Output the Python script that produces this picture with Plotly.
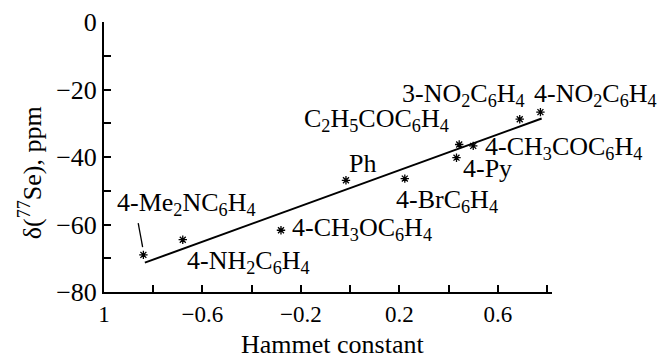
import plotly.graph_objects as go

# ---- data ----
substituents = ["4-Me<sub>2</sub>NC<sub>6</sub>H<sub>4</sub>", "4-NH<sub>2</sub>C<sub>6</sub>H<sub>4</sub>",
                "4-CH<sub>3</sub>OC<sub>6</sub>H<sub>4</sub>", "Ph", "4-BrC<sub>6</sub>H<sub>4</sub>", "4-Py",
                "C<sub>2</sub>H<sub>5</sub>COC<sub>6</sub>H<sub>4</sub>",
                "4-CH<sub>3</sub>COC<sub>6</sub>H<sub>4</sub>",
                "3-NO<sub>2</sub>C<sub>6</sub>H<sub>4</sub>", "4-NO<sub>2</sub>C<sub>6</sub>H<sub>4</sub>"]
hammett = [-0.84, -0.68, -0.281, -0.017, 0.222, 0.432, 0.443, 0.50, 0.689, 0.773]
shift_se = [-69.0, -64.5, -61.7, -46.9, -46.4, -40.2, -36.3, -36.7, -28.8, -26.7]

fit_x = [-0.834, 0.778]
fit_y = [-71.3, -28.6]
leader_x = [-0.861, -0.843]
leader_y = [-59.6, -66.7]

x_tickvals = [-1.0, -0.8, -0.6, -0.4, -0.2, 0.0, 0.2, 0.4, 0.6, 0.8]
x_ticktext = ["1", "", "\u22120.6", "", "\u22120.2", "", "0.2", "", "0.6", ""]
y_tickvals = [-80, -70, -60, -50, -40, -30, -20, -10, 0]
y_ticktext = ["\u221280", "", "\u221260", "", "\u221240", "", "\u221220", "", "0"]

# ---- label placement (pixel offsets from each point; layout only) ----
label_style = [
    dict(xanchor="left", xshift=-28, yshift=51),
    dict(xanchor="left", xshift=2, yshift=-22),
    dict(xanchor="left", xshift=9, yshift=1),
    dict(xanchor="left", xshift=1, yshift=17),
    dict(xanchor="left", xshift=-11, yshift=-22),
    dict(xanchor="left", xshift=5, yshift=-11),
    dict(xanchor="right", xshift=-8, yshift=25),
    dict(xanchor="left", xshift=10, yshift=-2),
    dict(xanchor="right", xshift=7, yshift=24),
    dict(xanchor="left", xshift=-8, yshift=17),
]

FONT = "Liberation Serif"
fs = 26

fig = go.Figure()
fig.add_trace(go.Scatter(x=fit_x, y=fit_y, mode="lines",
                         line=dict(color="black", width=2), showlegend=False))
fig.add_trace(go.Scatter(x=leader_x, y=leader_y, mode="lines",
                         line=dict(color="black", width=1.3), showlegend=False))
fig.add_trace(go.Scatter(x=hammett, y=shift_se, mode="markers",
                         marker=dict(symbol="asterisk-open", size=7, color="black",
                                     line=dict(color="black", width=1.3)),
                         showlegend=False))

for name, xv, yv, st in zip(substituents, hammett, shift_se, label_style):
    fig.add_annotation(x=xv, y=yv, text=name, showarrow=False, yanchor="middle",
                       font=dict(family=FONT, size=fs, color="black"), **st)

fig.add_annotation(xref="paper", yref="paper", x=0.509, y=-0.195, text="Hammet constant",
                   showarrow=False, xanchor="center", yanchor="middle",
                   font=dict(family=FONT, size=fs, color="black"))
fig.add_annotation(xref="paper", yref="paper", x=-0.165, y=0.44,
                   text="\u03b4(<sup>77</sup>Se), ppm", textangle=-90,
                   showarrow=False, xanchor="center", yanchor="middle",
                   font=dict(family=FONT, size=fs, color="black"))

axis_common = dict(showgrid=False, zeroline=False, showline=True, linecolor="black",
                   linewidth=2, ticks="inside", ticklen=7, tickwidth=2, tickcolor="black",
                   automargin=False)
fig.update_xaxes(range=[-1, 0.82], tickmode="array", tickvals=x_tickvals,
                 ticktext=x_ticktext, tickfont=dict(family=FONT, size=23, color="black"),
                 **axis_common)
fig.update_yaxes(range=[-80, 0], tickmode="array", tickvals=y_tickvals,
                 ticktext=y_ticktext, tickfont=dict(family=FONT, size=fs, color="black"),
                 **axis_common)

fig.update_layout(width=663, height=358, margin=dict(l=104, r=111, t=22, b=66),
                  plot_bgcolor="white", paper_bgcolor="white", hovermode=False,
                  font=dict(family=FONT, size=fs, color="black"))
fig.write_html("out.html", config={"displayModeBar": False, "staticPlot": True},
               post_script="document.body.style.margin='0';document.body.style.overflow='hidden';")
